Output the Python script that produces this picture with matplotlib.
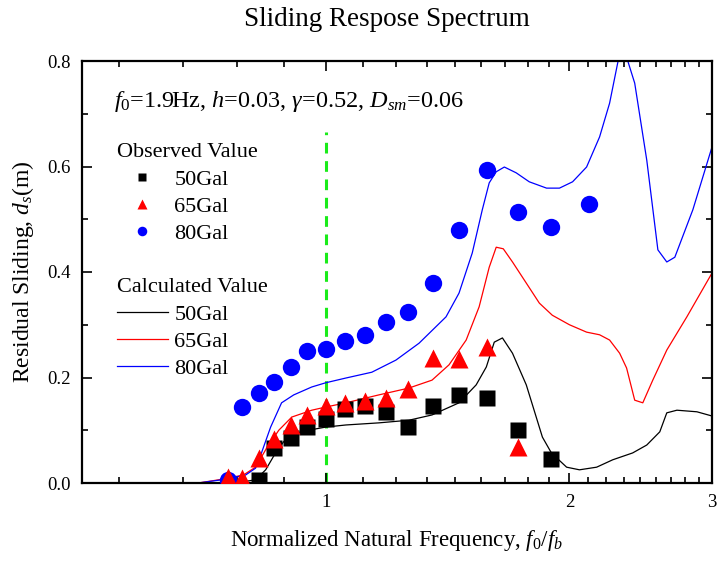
import numpy as np
import matplotlib
matplotlib.use('Agg')
import matplotlib.pyplot as plt
from matplotlib.ticker import FixedLocator, FixedFormatter, NullFormatter

# font setup (Times-like)
plt.rcParams['font.family'] = ['Liberation Serif', 'DejaVu Serif']
plt.rcParams['mathtext.fontset'] = 'custom'
plt.rcParams['mathtext.rm'] = 'Liberation Serif'
plt.rcParams['mathtext.it'] = 'Liberation Serif:italic'

# observed values
x_50 = [0.826, 0.862, 0.905, 0.947, 1.000, 1.056, 1.118, 1.187, 1.264, 1.357, 1.461, 1.583, 1.729, 1.900]
y_50 = [0.005, 0.066, 0.085, 0.106, 0.121, 0.140, 0.146, 0.135, 0.106, 0.146, 0.167, 0.161, 0.100, 0.045]

x_65 = [0.758, 0.789, 0.826, 0.862, 0.905, 0.947, 1.000, 1.056, 1.118, 1.187, 1.264, 1.357, 1.461, 1.583, 1.729]
y_65 = [0.011, 0.009, 0.047, 0.083, 0.110, 0.129, 0.146, 0.152, 0.155, 0.161, 0.178, 0.237, 0.235, 0.258, 0.068]

x_80 = [0.758, 0.789, 0.826, 0.862, 0.905, 0.947, 1.000, 1.056, 1.118, 1.187, 1.264, 1.357, 1.461, 1.583, 1.729, 1.900, 2.112]
y_80 = [0.005, 0.144, 0.171, 0.191, 0.220, 0.250, 0.254, 0.269, 0.281, 0.305, 0.324, 0.379, 0.480, 0.593, 0.514, 0.485, 0.529]

# calculated values
cx_50 = [0.5, 0.696, 0.780, 0.819, 0.843, 0.867, 0.887, 0.908, 0.944, 1.000, 1.059, 1.163, 1.267, 1.353,
         1.461, 1.534, 1.579, 1.615, 1.653, 1.701, 1.769, 1.852, 1.900, 1.984, 2.058, 2.161, 2.262,
         2.394, 2.492, 2.586, 2.638, 2.715, 2.874, 3.0]
cy_50 = [0.0, 0.0, 0.001, 0.006, 0.025, 0.057, 0.078, 0.091, 0.099, 0.106, 0.110, 0.114, 0.119, 0.129,
         0.152, 0.186, 0.220, 0.267, 0.275, 0.246, 0.186, 0.087, 0.057, 0.030, 0.025, 0.030, 0.044,
         0.057, 0.072, 0.097, 0.133, 0.138, 0.135, 0.127]

cx_65 = [0.5, 0.696, 0.737, 0.791, 0.819, 0.843, 0.875, 0.908, 0.961, 1.000, 1.059, 1.163, 1.267, 1.353,
         1.420, 1.491, 1.547, 1.592, 1.624, 1.657, 1.701, 1.769, 1.836, 1.905, 2.000, 2.100, 2.179,
         2.242, 2.307, 2.353, 2.408, 2.464, 2.535, 2.638, 2.793, 3.0]
cy_65 = [0.0, 0.0, 0.006, 0.015, 0.030, 0.063, 0.100, 0.125, 0.138, 0.144, 0.152, 0.167, 0.180, 0.195,
         0.224, 0.271, 0.334, 0.409, 0.447, 0.444, 0.419, 0.379, 0.341, 0.318, 0.300, 0.286, 0.281,
         0.271, 0.246, 0.218, 0.157, 0.152, 0.195, 0.252, 0.315, 0.398]

cx_80 = [0.5, 0.696, 0.743, 0.796, 0.819, 0.833, 0.855, 0.882, 0.913, 0.961, 1.000, 1.059, 1.140, 1.221,
         1.304, 1.408, 1.461, 1.517, 1.561, 1.592, 1.624, 1.662, 1.719, 1.784, 1.874, 1.944, 2.018,
         2.100, 2.179, 2.242, 2.294, 2.327, 2.361, 2.408, 2.492, 2.572, 2.638, 2.699, 2.841, 3.0]
cy_80 = [0.0, 0.0, 0.006, 0.015, 0.028, 0.057, 0.106, 0.152, 0.167, 0.182, 0.190, 0.199, 0.210, 0.233,
         0.265, 0.315, 0.360, 0.436, 0.518, 0.569, 0.590, 0.599, 0.588, 0.571, 0.559, 0.559, 0.571,
         0.599, 0.656, 0.720, 0.796, 0.840, 0.800, 0.758, 0.612, 0.442, 0.419, 0.428, 0.518, 0.637]

labels = ['50Gal', '65Gal', '80Gal']
ref_x = 1.0      # f0/fb = 1
ref_top = 0.665

fig = plt.figure(figsize=(7.28, 5.63), dpi=100)
ax = fig.add_axes([82 / 728, 1 - 483 / 563, 630 / 728, 422 / 563])

ax.plot([ref_x, ref_x], [0, ref_top], color='#1aeb1a', lw=2.2, ls=(0, (3.5, 2.5)), zorder=1)

l50, = ax.plot(cx_50, cy_50, color='black', lw=0.9, zorder=2)
l65, = ax.plot(cx_65, cy_65, color='red', lw=0.9, zorder=2)
l80, = ax.plot(cx_80, cy_80, color='blue', lw=0.9, zorder=2)

p80, = ax.plot(x_80, y_80, 'o', color='blue', ms=12.5, mec='none', zorder=3)
p50, = ax.plot(x_50, y_50, 's', color='black', ms=11.5, mec='none', zorder=4)
p65, = ax.plot(x_65, y_65, '^', color='red', ms=13, mec='none', zorder=5)

ax.set_xscale('log')
ax.set_xlim(0.5, 3)
ax.set_ylim(0, 0.8)

ax.xaxis.set_major_locator(FixedLocator([1, 2, 3]))
ax.xaxis.set_major_formatter(FixedFormatter(['1', '2', '3']))
ax.xaxis.set_minor_locator(FixedLocator([n / 9 for n in range(5, 27) if n % 9 != 0]))
ax.xaxis.set_minor_formatter(NullFormatter())
ax.set_yticks([0, 0.2, 0.4, 0.6, 0.8])
ax.set_yticklabels(['0.0', '0.2', '0.4', '0.6', '0.8'])
ax.set_yticks([0.1, 0.3, 0.5, 0.7], minor=True)

ax.tick_params(which='both', direction='in', top=True, right=True, labelsize=13.5, width=1.2)
ax.tick_params(which='major', length=7, pad=8)
ax.tick_params(which='minor', length=4)
for s in ax.spines.values():
    s.set_linewidth(1.6)

ax.set_xlabel(r'Normalized Natural Frequency, $f_\mathit{0}/f_b$', fontsize=16.5, labelpad=12)
ax.set_ylabel(r'Residual Sliding, $d_s$(m)', fontsize=17, labelpad=8)
fig.text(387 / 728, 1 - 20 / 563, 'Sliding Respose Spectrum', fontsize=19.5, ha='center', va='center')

ax.text(0.05, 0.905, r'$f_\mathit{0}$=1.9Hz, $h$=0.03, $\gamma$=0.52, $D_{sm}$=0.06',
        transform=ax.transAxes, fontsize=17.5, va='center')

leg1 = ax.legend([p50, p65, p80], labels, title='Observed Value', loc='upper left',
                 bbox_to_anchor=(0.055, 0.805), frameon=False, fontsize=16, title_fontsize=16,
                 alignment='left', markerscale=0.55, handlelength=2.3, handletextpad=0.3,
                 labelspacing=0.3, borderpad=0, borderaxespad=0)
ax.add_artist(leg1)
ax.legend([l50, l65, l80], labels, title='Calculated Value', loc='upper left',
          bbox_to_anchor=(0.055, 0.485), frameon=False, fontsize=16, title_fontsize=16,
          alignment='left', handlelength=2.3, handletextpad=0.3,
          labelspacing=0.3, borderpad=0, borderaxespad=0)

fig.savefig('out.png', dpi=100)
